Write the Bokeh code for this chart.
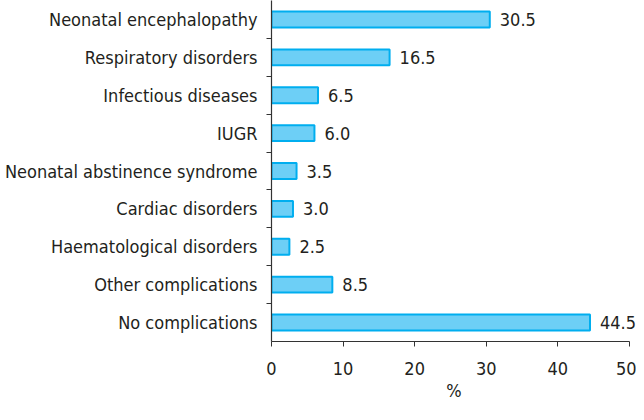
from bokeh.plotting import figure
from bokeh.models import Range1d, FixedTicker, ColumnDataSource, LabelSet
from bokeh.core.properties import value
from bokeh.embed import file_html
from bokeh.resources import INLINE

categories = ["Neonatal encephalopathy", "Respiratory disorders", "Infectious diseases",
              "IUGR", "Neonatal abstinence syndrome", "Cardiac disorders",
              "Haematological disorders", "Other complications", "No complications"]
values = [30.5, 16.5, 6.5, 6.0, 3.5, 3.0, 2.5, 8.5, 44.5]
x_ticks = [0, 10, 20, 30, 40, 50]

FONT = "DejaVu Sans Condensed"
TXT = "#231f20"
FS = "18px"

n = len(categories)
centers = [n - i - 0.5 for i in range(n)]
boundaries = [float(k) for k in range(1, n)]
labels = ["%.1f" % v for v in values]

src = ColumnDataSource(dict(cat=categories, val=values, y=centers, lab=labels))

p = figure(width=636, height=404, output_backend="svg", toolbar_location=None,
           x_range=Range1d(0, 51.0), y_range=Range1d(0, n))
p.min_border_left = 271
p.min_border_right = 0
p.min_border_top = 0
p.min_border_bottom = 63
p.outline_line_color = None
p.xgrid.grid_line_color = None
p.ygrid.grid_line_color = None
p.background_fill_color = "white"
p.border_fill_color = "white"

p.hbar(y="y", right="val", left=0, height=0.42, source=src,
       fill_color="#6dcff6", line_color="#00aeef", line_width=2)
p.add_layout(LabelSet(x="val", y="y", text="lab", source=src, x_offset=10,
                      text_align="left", text_baseline="middle", text_font=value(FONT),
                      text_font_size=FS, text_color=TXT))

ya = p.yaxis[0]
ya.ticker = FixedTicker(ticks=centers, minor_ticks=boundaries)
ya.major_label_overrides = {c: name for c, name in zip(centers, categories)}
ya.major_tick_in = 0
ya.major_tick_out = 0
ya.minor_tick_in = 0
ya.minor_tick_out = 5
ya.minor_tick_line_color = "#333333"
ya.axis_line_color = "#333333"
ya.axis_line_width = 1.2
ya.major_label_standoff = 9
ya.major_label_text_font = FONT
ya.major_label_text_font_size = FS
ya.major_label_text_color = TXT

xa = p.xaxis[0]
xa.ticker = FixedTicker(ticks=x_ticks, minor_ticks=[])
xa.bounds = (0, 50)
xa.major_tick_in = 0
xa.major_tick_out = 5
xa.major_tick_line_color = "#333333"
xa.axis_line_color = "#333333"
xa.axis_line_width = 1.2
xa.major_label_standoff = 15
xa.major_label_text_font = FONT
xa.major_label_text_font_size = FS
xa.major_label_text_color = TXT
xa.axis_label = "%"
xa.axis_label_text_font = FONT
xa.axis_label_text_font_size = FS
xa.axis_label_text_font_style = "normal"
xa.axis_label_text_color = TXT
xa.axis_label_standoff = 2

open("out.html", "w").write(file_html(p, INLINE))
